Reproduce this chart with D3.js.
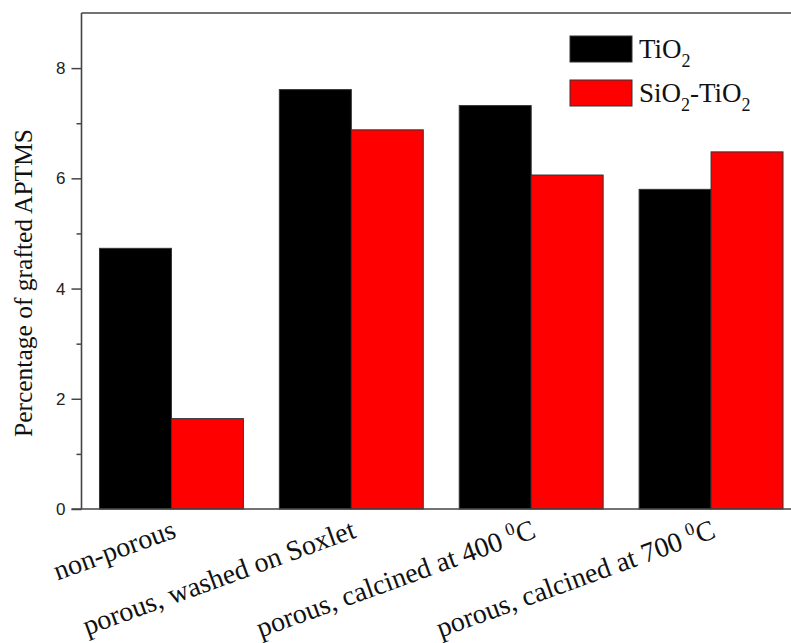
<!DOCTYPE html>
<html>
<head>
<meta charset="utf-8">
<script src="https://cdn.jsdelivr.net/npm/d3@7/dist/d3.min.js"></script>
<style>
  html, body { margin: 0; padding: 0; background: #fff; }
  svg { display: block; }
</style>
</head>
<body>
<svg id="chart" width="791" height="643"></svg>
<script>
// ---- data ----
const categories = ["non-porous", "porous, washed on Soxlet", "porous, calcined at 400", "porous, calcined at 700"];
const categorySuperscript = [null, null, "0", "0"];
const categorySuffix = ["", "", "C", "C"];
const seriesNames = ["TiO2", "SiO2-TiO2"];
const tio2Values = [4.73, 7.61, 7.32, 5.80];
const sio2tio2Values = [1.64, 6.88, 6.06, 6.48];
const yMajorTicks = [0, 2, 4, 6, 8];
const yMinorTicks = [1, 3, 5, 7];
const seriesColors = ["#000000", "#ff0000"];

const svg = d3.select("#chart");
const plotLeft = 81.5, plotRight = 801, plotTop = 13, plotBottom = 509;

const x = d3.scaleBand().domain(categories).range([plotLeft, plotRight]).paddingInner(0.2).paddingOuter(0.1);
const xs = d3.scaleBand().domain(seriesNames).range([0, x.bandwidth()]).padding(0);
const y = d3.scaleLinear().domain([0, 9]).range([plotBottom, plotTop]);

const seriesValues = [tio2Values, sio2tio2Values];
const rows = [];
categories.forEach((c, i) => seriesNames.forEach((s, j) => rows.push({c, s, j, v: seriesValues[j][i]})));

// bars
svg.append("g").selectAll("rect").data(rows).join("rect")
  .attr("x", d => x(d.c) + xs(d.s))
  .attr("y", d => y(d.v))
  .attr("width", xs.bandwidth())
  .attr("height", d => y(0) - y(d.v))
  .attr("fill", d => seriesColors[d.j])
  .attr("stroke", "#333")
  .attr("stroke-width", 1);

// frame lines (left, top, bottom)
const axisColor = "#444";
svg.append("line").attr("x1", plotLeft).attr("x2", plotLeft).attr("y1", plotTop).attr("y2", plotBottom)
  .attr("stroke", axisColor).attr("stroke-width", 1.6);
svg.append("line").attr("x1", plotLeft).attr("x2", 791).attr("y1", plotTop).attr("y2", plotTop)
  .attr("stroke", axisColor).attr("stroke-width", 1.6);
svg.append("line").attr("x1", plotLeft - 10).attr("x2", 791).attr("y1", plotBottom).attr("y2", plotBottom)
  .attr("stroke", axisColor).attr("stroke-width", 1.6);

// y axis
const yAxis = d3.axisLeft(y).tickValues(yMajorTicks).tickSize(10).tickPadding(6).tickFormat(d3.format("d"));
const gy = svg.append("g").attr("transform", `translate(${plotLeft},0)`).call(yAxis);
gy.select(".domain").remove();
gy.selectAll(".tick line").attr("stroke", axisColor).attr("stroke-width", 1.5);
gy.selectAll(".tick text").attr("font-family", "'Liberation Sans', Arial, sans-serif")
  .attr("font-size", 17).attr("fill", "#222");
const yMinor = d3.axisLeft(y).tickValues(yMinorTicks).tickSize(5).tickFormat("");
const gym = svg.append("g").attr("transform", `translate(${plotLeft},0)`).call(yMinor);
gym.select(".domain").remove();
gym.selectAll(".tick line").attr("stroke", axisColor).attr("stroke-width", 1.5);

// y title
const serif = "'Liberation Serif', 'Times New Roman', serif";
svg.append("text")
  .attr("transform", `translate(32,283) rotate(-90)`)
  .attr("text-anchor", "middle")
  .attr("font-family", serif)
  .attr("font-size", 25.5).attr("fill", "#111")
  .text("Percentage of grafted APTMS");

// x labels
categories.forEach((c, i) => {
  const cx = x(c) + x.bandwidth() / 2 + 6;
  const t = svg.append("text")
    .attr("transform", `translate(${cx},537) rotate(-20)`)
    .attr("text-anchor", "end")
    .attr("font-family", serif).attr("font-size", 28).attr("fill", "#111");
  t.append("tspan").text(c + (categorySuperscript[i] ? " " : ""));
  if (categorySuperscript[i]) {
    t.append("tspan").attr("font-size", 18).attr("dy", -11).text(categorySuperscript[i]);
    t.append("tspan").attr("dy", 11).text(categorySuffix[i]);
  }
});

// legend
const legendItems = [
  {parts: [["TiO", 0], ["2", 1]]},
  {parts: [["SiO", 0], ["2", 1], ["-TiO", 0], ["2", 1]]}
];
legendItems.forEach((item, i) => {
  const ly = 36 + i * 44;
  svg.append("rect").attr("x", 570).attr("y", ly).attr("width", 62).attr("height", 26)
    .attr("fill", seriesColors[i]).attr("stroke", "#333").attr("stroke-width", 1);
  const t = svg.append("text").attr("x", 639).attr("y", ly + 22)
    .attr("font-family", serif).attr("font-size", 27).attr("fill", "#111");
  let sub = 0;
  item.parts.forEach(([s, isSub]) => {
    const dy = isSub && !sub ? 9 : (!isSub && sub ? -9 : 0);
    t.append("tspan").attr("dy", dy).attr("font-size", isSub ? 18 : 27).text(s);
    sub = isSub;
  });
});
</script>
</body>
</html>
